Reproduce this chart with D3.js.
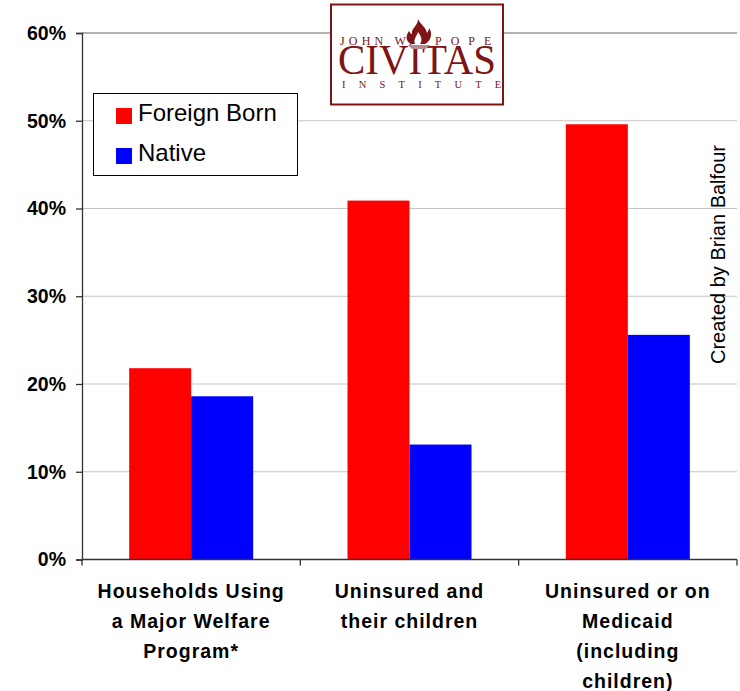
<!DOCTYPE html>
<html>
<head>
<meta charset="utf-8">
<script src="https://cdnjs.cloudflare.com/ajax/libs/d3/7.8.5/d3.min.js"></script>
<style>
  html, body { margin: 0; padding: 0; background: #fff; }
  text { font-family: "Liberation Sans", Arial, sans-serif; fill: #000; }
  .logo text { font-family: "Liberation Serif", serif; fill: #7d1416; }
</style>
</head>
<body>
<svg id="chart" width="740" height="691"></svg>
<script>
// values
var categories = ["welfare", "uninsured", "medicaid"];
var categoryLines = [
  ["Households Using", "a Major Welfare", "Program*"],
  ["Uninsured and", "their children"],
  ["Uninsured or on", "Medicaid", "(including", "children)"]
];
var seriesNames = ["Foreign Born", "Native"];
var seriesColors = ["#ff0000", "#0000ff"];
var foreignBorn = [21.8, 40.9, 49.6];
var native = [18.6, 13.1, 25.6];
var yTicks = [0, 10, 20, 30, 40, 50, 60];

var svg = d3.select("#chart");
var left = 82, right = 737, top_ = 33, bottom = 559.5;

var x = d3.scaleBand().domain(categories).range([left, right]);
var y = d3.scaleLinear().domain([0, 60]).range([bottom, top_]);
var inner = d3.scaleBand().domain(seriesNames).range([0, 124]);
var barOffset = (x.bandwidth() - 124) / 2;

// gridlines
svg.append("g").selectAll("line").data(yTicks.slice(1)).join("line")
  .attr("x1", left).attr("x2", right)
  .attr("y1", function(d){ return y(d); })
  .attr("y2", function(d){ return y(d); })
  .attr("stroke", function(d){ return d == 60 ? "#999" : "#c4c4c4"; })
  .attr("stroke-width", function(d){ return d == 60 ? 1.5 : 1; });

// bars
var values = [foreignBorn, native];
seriesNames.forEach(function(name, i){
  svg.append("g").selectAll("rect").data(values[i]).join("rect")
    .attr("x", function(d, j){ return x(categories[j]) + barOffset + inner(name); })
    .attr("y", function(d){ return y(d); })
    .attr("width", inner.bandwidth())
    .attr("height", function(d){ return bottom - y(d); })
    .attr("fill", seriesColors[i]);
});

// y axis
var yAxis = svg.append("g").attr("transform", "translate(" + left + ",0)")
  .call(d3.axisLeft(y).tickValues(yTicks).tickSize(6).tickPadding(10).tickFormat(function(d){ return d + "%"; }));
yAxis.selectAll("path, line").attr("stroke", "#333").attr("stroke-width", 1.3);
yAxis.selectAll("text")
  .style("font-size", "19.5px").style("font-weight", "bold").style("font-family", "Liberation Sans")
  .attr("fill", "#000");

// x axis
var tickEdges = categories.map(function(c){ return x(c); }).concat([right]);
svg.append("line").attr("x1", left).attr("x2", right).attr("y1", bottom).attr("y2", bottom)
  .attr("stroke", "#333").attr("stroke-width", 1.3);
svg.append("g").selectAll("line").data(tickEdges).join("line")
  .attr("x1", function(d){ return d; }).attr("x2", function(d){ return d; })
  .attr("y1", bottom).attr("y2", bottom + 6)
  .attr("stroke", "#333").attr("stroke-width", 1.3);

// category labels
categories.forEach(function(c, i){
  svg.append("g").selectAll("text").data(categoryLines[i]).join("text")
    .attr("x", x(c) + x.bandwidth() / 2)
    .attr("y", function(d, k){ return 598 + k * 30; })
    .attr("text-anchor", "middle")
    .style("font-size", "19.5px").style("font-weight", "bold").style("letter-spacing", "1px")
    .text(function(d){ return d; });
});

// legend
var legend = svg.append("g");
legend.append("rect").attr("x", 93.5).attr("y", 93.5).attr("width", 204).attr("height", 82)
  .attr("fill", "#fff").attr("stroke", "#000").attr("stroke-width", 1);
seriesNames.forEach(function(name, i){
  legend.append("rect").attr("x", 116).attr("y", 108 + i * 40).attr("width", 16).attr("height", 16)
    .attr("fill", seriesColors[i]);
  legend.append("text").attr("x", 138).attr("y", 121 + i * 40)
    .style("font-size", "24px").text(name);
});

// credit
svg.append("text").attr("transform", "translate(725,364) rotate(-90)")
  .style("font-size", "20px").text("Created by Brian Balfour");

// logo
var logo = svg.append("g").attr("class", "logo");
logo.append("rect").attr("x", 331).attr("y", 4.5).attr("width", 172).attr("height", 100)
  .attr("fill", "#fff").attr("stroke", "#7d1416").attr("stroke-width", 2);
logo.append("text").attr("x", 340).attr("y", 45).style("font-size", "12px").style("letter-spacing", "4.2px").text("JOHN W.");
logo.append("text").attr("x", 435).attr("y", 45).style("font-size", "12px").style("letter-spacing", "9px").text("POPE");
logo.append("text").attr("x", 417).attr("y", 74).attr("text-anchor", "middle")
  .attr("textLength", 158).attr("lengthAdjust", "spacingAndGlyphs")
  .style("font-size", "43px").text("CIVITAS");
logo.append("text").attr("x", 342).attr("y", 88).style("font-size", "10.5px").style("letter-spacing", "13.2px").text("INSTITUTE");
// torch flame
logo.append("path")
  .attr("d", "M418,19 C420,24 426,27 427,33 C429,30 429,29 429,28 C433,33 431,41 425,44 L411,44 C405,41 406,35 409,31 C410,33 411,34 412,34 C411,28 418,26 418,19 Z M415,44 C413,39 417,36 418,32 C421,36 423,40 420,44 Z")
  .attr("fill", "#7d1416").attr("fill-rule", "evenodd");
logo.append("path").attr("d", "M408,45 H430 L426,49 H412 Z").attr("fill", "#b98a8b");
</script>
</body>
</html>
